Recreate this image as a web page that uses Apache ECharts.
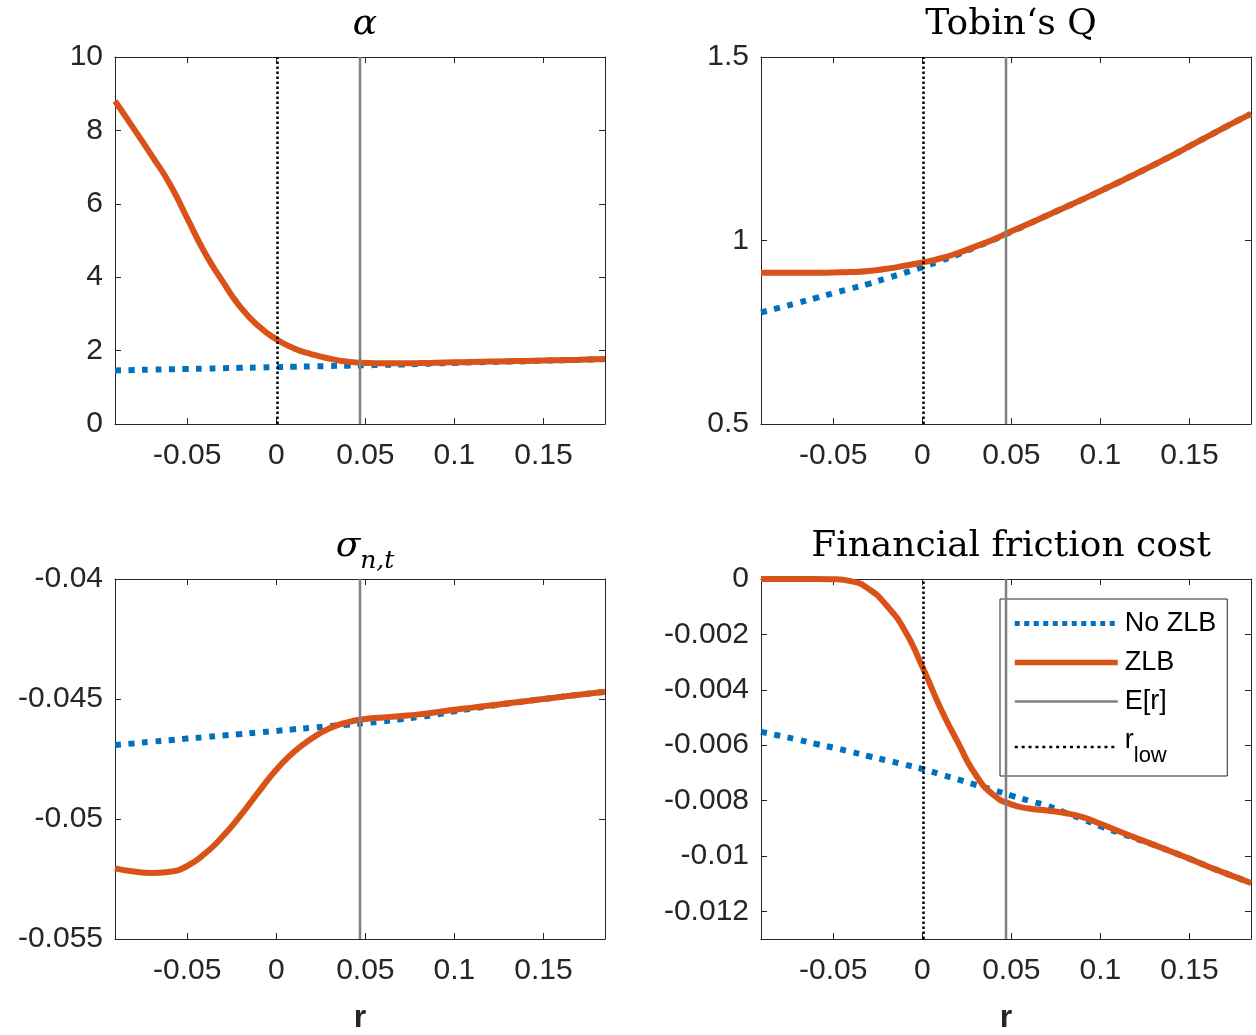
<!DOCTYPE html>
<html><head><meta charset="utf-8">
<script src="https://cdn.jsdelivr.net/npm/echarts@6/dist/echarts.min.js"></script>
<style>html,body{margin:0;padding:0;background:#fff}#c{width:1256px;height:1035px}</style>
</head><body><div id="c"></div>
<script>
// ---- data ----
const rGrid = [-0.0905, -0.08, -0.07, -0.06, -0.05, -0.04, -0.03, -0.02, -0.01, 0, 0.01, 0.02, 0.03, 0.04, 0.05, 0.06, 0.07, 0.08, 0.09, 0.1, 0.11, 0.12, 0.13, 0.14, 0.15, 0.16, 0.17, 0.1845];

const alphaZLB   = [8.80, 8.05, 7.32, 6.56, 5.61, 4.66, 3.88, 3.18, 2.67, 2.31, 2.06, 1.90, 1.78, 1.70, 1.665, 1.655, 1.655, 1.66, 1.67, 1.68, 1.69, 1.70, 1.71, 1.72, 1.73, 1.74, 1.75, 1.77];
const alphaNoZLB = [1.46, 1.47, 1.48, 1.49, 1.50, 1.51, 1.52, 1.53, 1.54, 1.55, 1.56, 1.57, 1.58, 1.59, 1.60, 1.61, 1.62, 1.635, 1.65, 1.665, 1.68, 1.69, 1.70, 1.71, 1.725, 1.74, 1.75, 1.77];

const qZLB   = [0.912, 0.912, 0.912, 0.912, 0.913, 0.914, 0.917, 0.923, 0.931, 0.940, 0.951, 0.966, 0.984, 1.003, 1.025, 1.046, 1.068, 1.090, 1.112, 1.135, 1.158, 1.182, 1.206, 1.231, 1.257, 1.283, 1.309, 1.345];
const qNoZLB = [0.804, 0.817, 0.830, 0.843, 0.856, 0.869, 0.882, 0.897, 0.912, 0.927, 0.944, 0.962, 0.982, 1.002, 1.024, 1.046, 1.068, 1.090, 1.112, 1.135, 1.158, 1.182, 1.206, 1.231, 1.257, 1.283, 1.309, 1.345];

const sigmaZLB   = [-0.05206, -0.05219, -0.05225, -0.05220, -0.05196, -0.05144, -0.05072, -0.04985, -0.04888, -0.04795, -0.04720, -0.04664, -0.04622, -0.04597, -0.04583, -0.04577, -0.04571, -0.04564, -0.04555, -0.04545, -0.04536, -0.04527, -0.04518, -0.04509, -0.04500, -0.04491, -0.04482, -0.04470];
const sigmaNoZLB = [-0.04692, -0.04685, -0.04678, -0.04672, -0.04665, -0.04659, -0.04652, -0.04646, -0.04639, -0.04633, -0.04626, -0.04620, -0.04613, -0.04607, -0.04600, -0.04593, -0.04584, -0.04575, -0.04564, -0.04551, -0.04540, -0.04529, -0.04519, -0.04509, -0.04500, -0.04491, -0.04482, -0.04470];

const ffcZLB   = [0, 0, 0, 0, -0.00001, -0.00008, -0.00036, -0.00096, -0.00184, -0.00316, -0.00463, -0.00590, -0.00707, -0.00780, -0.00814, -0.00829, -0.00836, -0.00845, -0.0086, -0.00884, -0.0091, -0.00935, -0.0096, -0.00985, -0.0101, -0.01037, -0.01062, -0.01098];
const ffcNoZLB = [-0.00552, -0.00566, -0.0058, -0.00595, -0.00609, -0.00624, -0.0064, -0.00655, -0.0067, -0.00686, -0.00705, -0.00724, -0.00743, -0.00762, -0.00782, -0.00801, -0.00819, -0.00843, -0.00867, -0.00893, -0.00915, -0.00938, -0.0096, -0.00985, -0.0101, -0.01037, -0.01062, -0.01098];

const eR = 0.047;     // expected rate (grey line)
const rLow = 0.0007;  // r_low (dotted line)

const xRange = [-0.0905, 0.1845];
const xTicks = [-0.05, 0, 0.05, 0.1, 0.15];

const alphaTicks = [0, 2, 4, 6, 8, 10];
const qTicks = [0.5, 1, 1.5];
const sigmaTicks = [-0.055, -0.05, -0.045, -0.04];
const ffcTicks = [-0.012, -0.01, -0.008, -0.006, -0.004, -0.002, 0];

const panels = [
  {title: 'α', y: [0, 10], yTicks: alphaTicks, zlb: alphaZLB, nozlb: alphaNoZLB, low: true, pos: [115, 57, 490, 367], xName: ''},
  {title: 'Tobin‘s Q', y: [0.5, 1.5], yTicks: qTicks, zlb: qZLB, nozlb: qNoZLB, low: true, pos: [761, 57, 490, 367], xName: ''},
  {title: '{s|σ}{b|n,t}', y: [-0.055, -0.04], yTicks: sigmaTicks, zlb: sigmaZLB, nozlb: sigmaNoZLB, low: false, pos: [115, 579, 490, 366], xName: 'r'},
  {title: 'Financial friction cost', y: [-0.013, 0], yTicks: ffcTicks, zlb: ffcZLB, nozlb: ffcNoZLB, low: true, pos: [761, 579, 490, 366], xName: 'r'}
];

// ---- styles ----
const AX = '#262626';
const BLUE = '#0072BD', ORANGE = '#D95319', GREY = '#808080';
const fmt = v => String(+(+v).toFixed(4));

const grid = [], xAxis = [], yAxis = [], series = [], title = [];
panels.forEach((p, i) => {
  grid.push({left: p.pos[0], top: p.pos[1], width: p.pos[2], height: p.pos[3], containLabel: false});
  const italic = p.title === 'α';
  title.push({
    text: p.title,
    left: p.pos[0] + p.pos[2] / 2,
    top: p.pos[1] - 55,
    textAlign: 'center',
    textStyle: {
      fontFamily: 'DejaVu Serif', fontSize: 36, fontWeight: 'normal', color: '#000',
      fontStyle: italic ? 'italic' : 'normal',
      rich: {
        s: {fontFamily: 'DejaVu Serif', fontStyle: 'italic', fontSize: 36, verticalAlign: 'top', lineHeight: 45, color: '#000'},
        b: {fontFamily: 'DejaVu Serif', fontStyle: 'italic', fontSize: 25, verticalAlign: 'bottom', lineHeight: 45, color: '#000'}
      }
    }
  });
  xAxis.push({
    type: 'value', gridIndex: i, min: xRange[0], max: xRange[1], position: 'bottom',
    name: p.xName, nameLocation: 'middle', nameGap: 63,
    nameTextStyle: {fontFamily: 'Liberation Sans', fontWeight: 'bold', fontSize: 32, color: AX},
    axisLine: {show: true, onZero: false, lineStyle: {color: AX, width: 1}},
    axisTick: {show: true, inside: true, length: 6, lineStyle: {color: AX}, customValues: xTicks},
    axisLabel: {show: true, margin: 17, fontFamily: 'Liberation Sans', fontSize: 30, color: AX, customValues: xTicks, formatter: fmt},
    splitLine: {show: false}
  });
  xAxis.push({
    type: 'value', gridIndex: i, min: xRange[0], max: xRange[1], position: 'top',
    axisLine: {show: true, onZero: false, lineStyle: {color: AX, width: 1}},
    axisTick: {show: true, inside: true, length: 6, lineStyle: {color: AX}, customValues: xTicks},
    axisLabel: {show: false}, splitLine: {show: false}
  });
  yAxis.push({
    type: 'value', gridIndex: i, min: p.y[0], max: p.y[1], position: 'left',
    axisLine: {show: true, onZero: false, lineStyle: {color: AX, width: 1}},
    axisTick: {show: true, inside: true, length: 6, lineStyle: {color: AX}, customValues: p.yTicks},
    axisLabel: {show: true, margin: 12, fontFamily: 'Liberation Sans', fontSize: 30, color: AX, customValues: p.yTicks, formatter: fmt},
    splitLine: {show: false}
  });
  yAxis.push({
    type: 'value', gridIndex: i, min: p.y[0], max: p.y[1], position: 'right',
    axisLine: {show: true, onZero: false, lineStyle: {color: AX, width: 1}},
    axisTick: {show: true, inside: true, length: 6, lineStyle: {color: AX}, customValues: p.yTicks},
    axisLabel: {show: false}, splitLine: {show: false}
  });
  const xi = 2 * i, yi = 2 * i;
  series.push({
    name: 'No ZLB', type: 'line', xAxisIndex: xi, yAxisIndex: yi, symbol: 'none', smooth: 0.5, clip: false,
    data: rGrid.map((r, k) => [r, p.nozlb[k]]),
    lineStyle: {color: BLUE, width: 6, type: [6, 7.5], cap: 'butt'}, itemStyle: {color: BLUE}, z: 2
  });
  series.push({
    name: 'ZLB', type: 'line', xAxisIndex: xi, yAxisIndex: yi, symbol: 'none', smooth: 0.55, clip: false,
    data: rGrid.map((r, k) => [r, p.zlb[k]]),
    lineStyle: {color: ORANGE, width: 6}, itemStyle: {color: ORANGE}, z: 3
  });
  series.push({
    name: 'E[r]', type: 'line', xAxisIndex: xi, yAxisIndex: yi, symbol: 'none',
    data: [[eR, p.y[0]], [eR, p.y[1]]],
    lineStyle: {color: GREY, width: 2.5}, itemStyle: {color: GREY}, z: 4
  });
  if (p.low) {
    series.push({
      name: 'r_low', type: 'line', xAxisIndex: xi, yAxisIndex: yi, symbol: 'none',
      data: [[rLow, p.y[0]], [rLow, p.y[1]]],
      lineStyle: {color: '#000', width: 2.5, type: [2.5, 2.5]}, itemStyle: {color: '#000'}, z: 5
    });
  }
});

const chart = echarts.init(document.getElementById('c'), null, {renderer: 'canvas'});
chart.setOption({
  animation: false,
  backgroundColor: '#fff',
  title: title,
  grid: grid, xAxis: xAxis, yAxis: yAxis, series: series,
  legend: {
    orient: 'vertical', left: 1000, top: 599,
    padding: [11, 11, 9, 12],
    itemWidth: 103, itemHeight: 26, itemGap: 12,
    backgroundColor: '#fff', borderColor: AX, borderWidth: 1,
    selectedMode: false,
    lineStyle: {width: 'inherit'},
    itemStyle: {opacity: 0},
    data: [
      {name: 'No ZLB', lineStyle: {width: 5, type: [5, 4.5]}},
      {name: 'ZLB', lineStyle: {width: 5.5}},
      {name: 'E[r]', lineStyle: {width: 2.5}},
      {name: 'r_low', lineStyle: {width: 2.5, type: [3, 3.9]}}
    ],
    formatter: n => n === 'r_low' ? '{a|r}{b|low}' : n,
    textStyle: {
      fontFamily: 'Liberation Sans', fontSize: 27, lineHeight: 26, color: '#000', padding: [0, 0, 0, 2],
      rich: {
        a: {fontFamily: 'Liberation Sans', fontSize: 27, verticalAlign: 'top', lineHeight: 40, color: '#000'},
        b: {fontFamily: 'Liberation Sans', fontSize: 22, verticalAlign: 'bottom', lineHeight: 40, color: '#000'}
      }
    }
  }
});
</script></body></html>
